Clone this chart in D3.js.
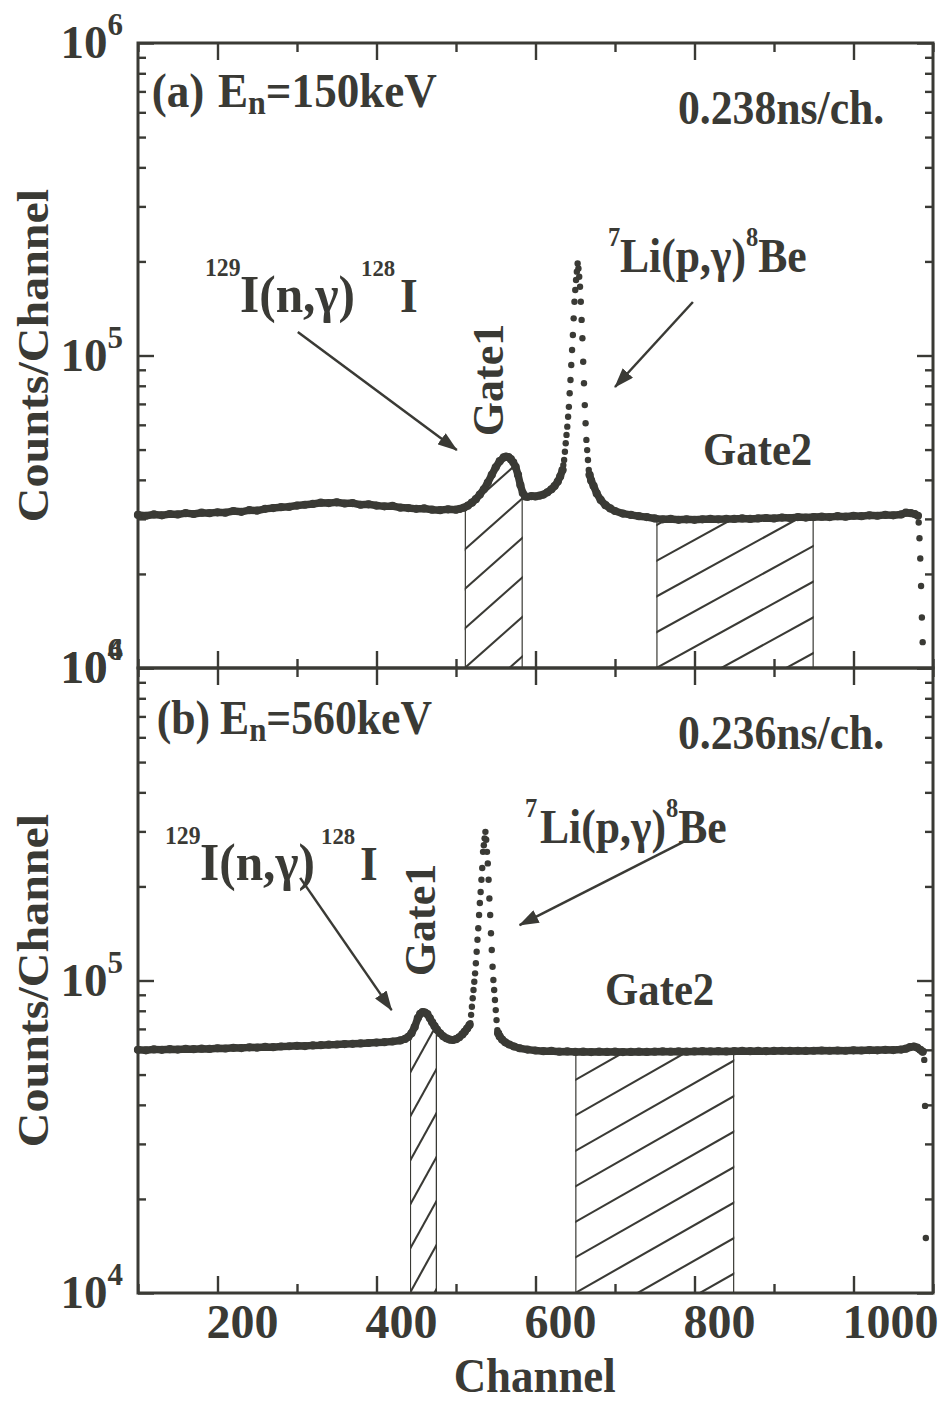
<!DOCTYPE html>
<html>
<head>
<meta charset="utf-8">
<script src="https://cdn.jsdelivr.net/npm/d3@7"></script>
<style>
  body { margin: 0; background: #fff; }
  svg { display: block; }
</style>
</head>
<body>
<svg id="chart" width="942" height="1401"></svg>
<script>
// ---- Spectrum (a): En = 150 keV, [channel, counts] ----
const aLeft = [[100,30900],[110,30700],[120,31000],[130,30800],[140,31100],[150,31000],[160,31300],[170,31100],[180,31400],[190,31300],[200,31500],[210,31400],[220,31800],[230,31600],[240,32000],[250,31900],[260,32300],[270,32500],[280,32700],[290,32800],[300,33100],[310,33300],[320,33500],[330,33800],[340,33700],[350,33900],[360,33600],[370,33700],[380,33300],[390,33400],[400,33100],[410,32900],[420,33000],[430,32600],[440,32500],[450,32300],[460,32400],[470,32100],[480,32000],[490,32200],[500,32100],[505,32300],[510,32600],[515,33100],[520,33800],[525,34700],[530,35900],[535,37300],[540,39200],[545,41500],[550,43900],[555,45900],[560,47200],[563,47500],[566,47300],[569,46600],[572,45500],[575,44000],[578,41500],[581,38500],[584,36300],[587,35400],[590,35300],[595,35500],[600,35400],[605,35600],[610,35900],[615,36500],[620,37300],[624,38200],[628,39500],[631,41000],[634,43000]];
const aPeakL = [[635,44600],[636,46300],[637,49200],[638,52400],[639,55700],[640,59200],[641,63700],[642,68500],[643,75700],[644,83500],[645,93200],[646,104100],[647,116300],[648,131500],[649,148600],[650,162000],[651,174400],[652,185500],[653,197000]];
const aPeakR = [[654,190000],[655,178700],[656,166000],[657,148600],[658,130000],[659,113500],[660,95500],[661,81500],[662,69400],[663,60700],[664,53700],[665,49800],[666,46300],[667,43000]];
const aRight = [[668,41500],[670,39800],[673,38300],[677,36200],[682,34500],[688,33200],[694,32400],[700,31800],[710,31200],[720,30900],[730,30600],[740,30400],[750,30100],[760,29900],[770,30000],[780,29800],[790,29900],[800,29800],[810,29900],[820,30000],[830,29900],[840,30000],[850,30000],[860,30100],[870,30000],[880,30100],[890,30200],[900,30100],[910,30300],[920,30200],[930,30400],[940,30300],[950,30400],[960,30500],[970,30400],[980,30600],[990,30500],[1000,30700],[1010,30600],[1020,30800],[1030,30700],[1040,30900],[1050,30800],[1060,31000],[1066,31400],[1072,31300],[1077,31100],[1081,30700]];
const aTail = [[1082,29200],[1083,26000],[1084,22400],[1085,18300],[1086,14500],[1087,12100]];
const aGates = [[511,584],[752,950]];

// ---- Spectrum (b): En = 560 keV ----
const bLeft = [[100,60000],[110,59800],[120,60200],[130,60000],[140,60300],[150,60100],[160,60400],[170,60300],[180,60500],[190,60400],[200,60700],[210,60600],[220,60900],[230,60800],[240,61100],[250,61000],[260,61300],[270,61200],[280,61500],[290,61600],[300,61800],[310,61700],[320,62000],[330,62100],[340,62300],[350,62400],[360,62600],[370,62700],[380,62900],[390,63100],[400,63300],[410,63500],[420,63800],[430,64300],[436,65000],[440,66000],[444,67800],[448,71000],[452,75800],[455,78200],[458,79300],[461,79000],[464,78000],[467,75800],[470,73500],[473,71400],[476,69600],[480,67800],[484,66300],[488,65300],[492,64700],[496,64500],[500,64900],[504,65800],[508,67200],[511,68600],[514,70200],[517,72000]];
const bPeakL = [[518,73000],[519,77600],[520,82400],[521,87700],[522,93200],[523,99100],[524,105400],[525,113500],[526,123600],[527,135000],[528,147000],[529,162000],[530,177000],[531,192000],[532,210000],[533,229000],[534,258000],[535,271000],[536,285000],[537,299000]];
const bPeakR = [[538,282000],[539,258000],[540,237000],[541,210000],[542,183000],[543,162000],[544,141600],[545,125200],[546,110700],[547,100400],[548,93200],[549,86600],[550,80400],[551,74700],[552,69400]];
const bRight = [[553,67800],[555,66200],[558,64700],[562,63400],[567,62400],[573,61500],[580,60700],[590,60100],[600,59700],[610,59400],[620,59500],[630,59200],[640,59300],[650,59100],[660,59200],[670,59000],[680,59200],[690,59100],[700,59200],[710,59000],[720,59100],[730,59200],[740,59100],[750,59200],[760,59300],[770,59200],[780,59300],[790,59200],[800,59300],[810,59400],[820,59300],[830,59400],[840,59300],[850,59400],[860,59500],[870,59400],[880,59500],[890,59400],[900,59500],[910,59600],[920,59500],[930,59600],[940,59500],[950,59600],[960,59700],[970,59600],[980,59700],[990,59600],[1000,59800],[1010,59700],[1020,59900],[1030,59800],[1040,60000],[1050,59900],[1060,60100],[1066,60500],[1071,61200],[1076,61500],[1080,61000],[1084,60000],[1087,59200]];
const bTail = [[1089,55700],[1090,39700],[1091,15000]];
const bGates = [[442,476],[650,850]];

// ---- Axis ticks ----
const xMajor = [200, 400, 600, 800, 1000];
const xMinor = [100, 300, 500, 700, 900, 1100];
const yMajor = [1e4, 1e5, 1e6];
const yMinor = [2e4,3e4,4e4,5e4,6e4,7e4,8e4,9e4,2e5,3e5,4e5,5e5,6e5,7e5,8e5,9e5];

// ---- Look ----
const INK = "#3a3a35";
const FONT = "'Liberation Serif','Times New Roman',Times,serif";
const L = 138, R = 933;

const svg = d3.select("#chart");
const defs = svg.append("defs");
defs.append("marker")
  .attr("id", "head").attr("markerUnits", "userSpaceOnUse")
  .attr("viewBox", "0 0 20 14").attr("markerWidth", 20).attr("markerHeight", 14)
  .attr("refX", 19).attr("refY", 7).attr("orient", "auto")
  .append("path").attr("d", "M0,0L20,7L0,14Z").attr("fill", INK);

const x = d3.scaleLinear().domain([100, 1100]).range([L, R]);

// text with optional squeeze/rotation; parts may carry size, baseline shift and absolute page x
function label(x0, y0, parts, o = {}) {
  const sx = o.sx ?? 0.91, size = o.size ?? 48;
  const t = svg.append("text")
    .attr("transform", `translate(${x0},${y0}) scale(${sx},1)` + (o.rot ? ` rotate(${o.rot})` : ""))
    .attr("text-anchor", o.anchor || "start")
    .attr("font-family", FONT).attr("font-weight", "bold")
    .attr("font-size", size).attr("fill", INK);
  let base = 0;
  parts.forEach(p => {
    const ts = t.append("tspan").text(p.t);
    if (p.size) ts.attr("font-size", p.size);
    const shift = p.shift || 0;
    ts.attr("dy", shift - base);
    base = shift;
    if (p.at != null) ts.attr("x", (p.at - x0) / sx);
  });
  return t;
}

const panels = [
  { id: "a", top: 43, bottom: 668, lines: [aLeft, aRight], dots: [aPeakL, aPeakR, aTail],
    gates: aGates, hatch: [{ m: 0.887, s: 39.5 }, { m: 0.55, s: 35.7 }], xLabels: false,
    arrows: [[[301, 118900], [501, 49800]], [[798, 148300], [700, 79300]]] },
  { id: "b", top: 668, bottom: 1293, lines: [bLeft, bRight], dots: [bPeakL, bPeakR, bTail],
    gates: bGates, hatch: [{ m: 1.8, s: 44 }, { m: 0.57, s: 35.5 }], xLabels: true,
    arrows: [[[304, 213000], [419, 80400]], [[791, 282000], [580, 150500]]] }
];

panels.forEach(p => {
  const y = d3.scaleLog().domain([1e4, 1e6]).range([p.bottom, p.top]);
  p.y = y;
  const all = [...p.lines[0], ...p.dots[0], ...p.dots[1], ...p.lines[1]].sort((u, v) => u[0] - v[0]);

  // region under the spectrum, used to bound the gate hatching
  defs.append("clipPath").attr("id", "under-" + p.id)
    .append("path")
    .attr("d", d3.area().x(d => x(d[0])).y0(p.bottom).y1(d => y(d[1])).curve(d3.curveLinear)(all));

  p.gates.forEach((gt, i) => {
    const x0 = x(gt[0]), x1 = x(gt[1]);
    defs.append("clipPath").attr("id", `gate-${p.id}${i}`)
      .append("rect").attr("x", x0).attr("y", p.top).attr("width", x1 - x0).attr("height", p.bottom - p.top);
    const outer = svg.append("g").attr("clip-path", `url(#gate-${p.id}${i})`);
    const inner = outer.append("g").attr("clip-path", `url(#under-${p.id})`);
    const h = p.hatch[i];
    const w = x1 - x0;
    const ks = d3.range(-4, Math.ceil((p.bottom - p.top + h.m * w) / h.s) + 1);
    inner.selectAll("line.hatch").data(ks).join("line")
      .attr("x1", x0 - 5).attr("y1", k => p.bottom - k * h.s + h.m * 5)
      .attr("x2", x1 + 5).attr("y2", k => p.bottom - k * h.s - h.m * (w + 5))
      .attr("stroke", INK).attr("stroke-width", 2.1);
    inner.selectAll("line.edge").data([x0, x1]).join("line")
      .attr("x1", d => d).attr("x2", d => d).attr("y1", p.bottom).attr("y2", p.top)
      .attr("stroke", INK).attr("stroke-width", 2.4);
  });

  // spectrum: dense flat parts as a thick beaded trace, steep peak channels as single dots
  const line = d3.line().x(d => x(d[0])).y(d => y(d[1])).curve(d3.curveLinear);
  p.lines.forEach(s => {
    svg.append("path").attr("d", line(s)).attr("fill", "none").attr("stroke", INK)
      .attr("stroke-width", 7.5).attr("stroke-linejoin", "round").attr("stroke-linecap", "round");
    svg.append("g").selectAll("circle").data(s).join("circle")
      .attr("cx", d => x(d[0])).attr("cy", d => y(d[1])).attr("r", 4.1).attr("fill", INK);
  });
  p.dots.forEach(s => {
    svg.append("g").selectAll("circle").data(s).join("circle")
      .attr("cx", d => x(d[0])).attr("cy", d => y(d[1])).attr("r", 3.2).attr("fill", INK);
  });

  // arrows
  p.arrows.forEach(a => {
    svg.append("line")
      .attr("x1", x(a[0][0])).attr("y1", y(a[0][1]))
      .attr("x2", x(a[1][0])).attr("y2", y(a[1][1]))
      .attr("stroke", INK).attr("stroke-width", 2.5).attr("marker-end", "url(#head)");
  });

  // axes: ticks point inward on all four sides
  const ax = svg.append("g");
  const fmt = () => "";
  ax.append("g").attr("transform", `translate(0,${p.bottom})`)
    .call(d3.axisBottom(x).tickValues(xMajor).tickSize(-17).tickSizeOuter(0)
      .tickFormat(p.xLabels ? d3.format("d") : fmt));
  ax.append("g").attr("transform", `translate(0,${p.bottom})`)
    .call(d3.axisBottom(x).tickValues(xMinor).tickSize(-9).tickSizeOuter(0).tickFormat(fmt));
  ax.append("g").attr("transform", `translate(0,${p.top})`)
    .call(d3.axisTop(x).tickValues(xMajor).tickSize(-17).tickSizeOuter(0).tickFormat(fmt));
  ax.append("g").attr("transform", `translate(0,${p.top})`)
    .call(d3.axisTop(x).tickValues(xMinor).tickSize(-9).tickSizeOuter(0).tickFormat(fmt));
  ax.append("g").attr("transform", `translate(${L},0)`)
    .call(d3.axisLeft(y).tickValues(yMajor).tickSize(-16).tickSizeOuter(0).tickFormat(fmt));
  ax.append("g").attr("transform", `translate(${L},0)`)
    .call(d3.axisLeft(y).tickValues(yMinor).tickSize(-8).tickSizeOuter(0).tickFormat(fmt));
  ax.append("g").attr("transform", `translate(${R},0)`)
    .call(d3.axisRight(y).tickValues(yMajor).tickSize(-16).tickSizeOuter(0).tickFormat(fmt));
  ax.append("g").attr("transform", `translate(${R},0)`)
    .call(d3.axisRight(y).tickValues(yMinor).tickSize(-8).tickSizeOuter(0).tickFormat(fmt));
  ax.selectAll(".domain").remove();
  ax.selectAll(".tick line").attr("stroke", INK).attr("stroke-width", 2.4);
  ax.selectAll(".tick text").filter(function () { return this.textContent === ""; }).remove();
  ax.selectAll(".tick text")
    .attr("font-family", FONT).attr("font-weight", "bold").attr("font-size", 48)
    .attr("fill", INK).attr("text-anchor", "start").attr("x", -11.5).attr("y", 45).attr("dy", null);

  // decade labels 10^n
  yMajor.forEach(v => {
    const t = svg.append("text")
      .attr("x", L - 15).attr("y", y(v) + 15).attr("text-anchor", "end")
      .attr("font-family", FONT).attr("font-weight", "bold").attr("font-size", 47).attr("fill", INK);
    t.append("tspan").text("10");
    t.append("tspan").text(Math.round(Math.log10(v))).attr("font-size", 31).attr("dy", -23);
  });

  svg.append("rect").attr("x", L).attr("y", p.top).attr("width", R - L).attr("height", p.bottom - p.top)
    .attr("fill", "none").attr("stroke", INK).attr("stroke-width", 3);

  label(48, (p.top + p.bottom) / 2, [{ t: "Counts/Channel" }], { rot: -90, anchor: "middle" });
});

// panel (a) annotations
label(151.7, 107, [{ t: "(a)" }, { t: "E", at: 218 }, { t: "n", size: 34, shift: 7 }, { t: "=150keV", shift: 0 }], { sx: 0.94 });
label(678, 124, [{ t: "0.238ns/ch." }]);
label(205, 311.5, [{ t: "129", size: 25, shift: -36 }, { t: "I(n,γ)", at: 240, size: 52 }, { t: "128", size: 24, shift: -36, at: 361 }, { t: "I", at: 400 }], { sx: 0.95 });
label(503, 380, [{ t: "Gate1" }], { rot: -90, anchor: "middle", size: 44, sx: 1 });
label(608, 272, [{ t: "7", size: 27, shift: -26 }, { t: "Li(p,γ)", at: 620 }, { t: "8", size: 27, shift: -26 }, { t: "Be" }]);
label(703, 465, [{ t: "Gate2" }], { size: 46, sx: 0.93 });

// panel (b) annotations
label(156.7, 734, [{ t: "(b)" }, { t: "E", at: 220 }, { t: "n", size: 34, shift: 7 }, { t: "=560keV", shift: 0 }]);
label(678, 749, [{ t: "0.236ns/ch." }]);
label(165, 880, [{ t: "129", size: 25, shift: -36 }, { t: "I(n,γ)", at: 200, size: 52 }, { t: "128", size: 24, shift: -36, at: 321 }, { t: "I", at: 360 }], { sx: 0.95 });
label(435, 920, [{ t: "Gate1" }], { rot: -90, anchor: "middle", size: 44, sx: 1 });
label(525, 843, [{ t: "7", size: 27, shift: -26 }, { t: "Li(p,γ)", at: 540 }, { t: "8", size: 27, shift: -26 }, { t: "Be" }]);
label(605, 1005, [{ t: "Gate2" }], { size: 46, sx: 0.93 });

label(534.7, 1392, [{ t: "Channel" }], { anchor: "middle", sx: 0.935 });
</script>
</body>
</html>
